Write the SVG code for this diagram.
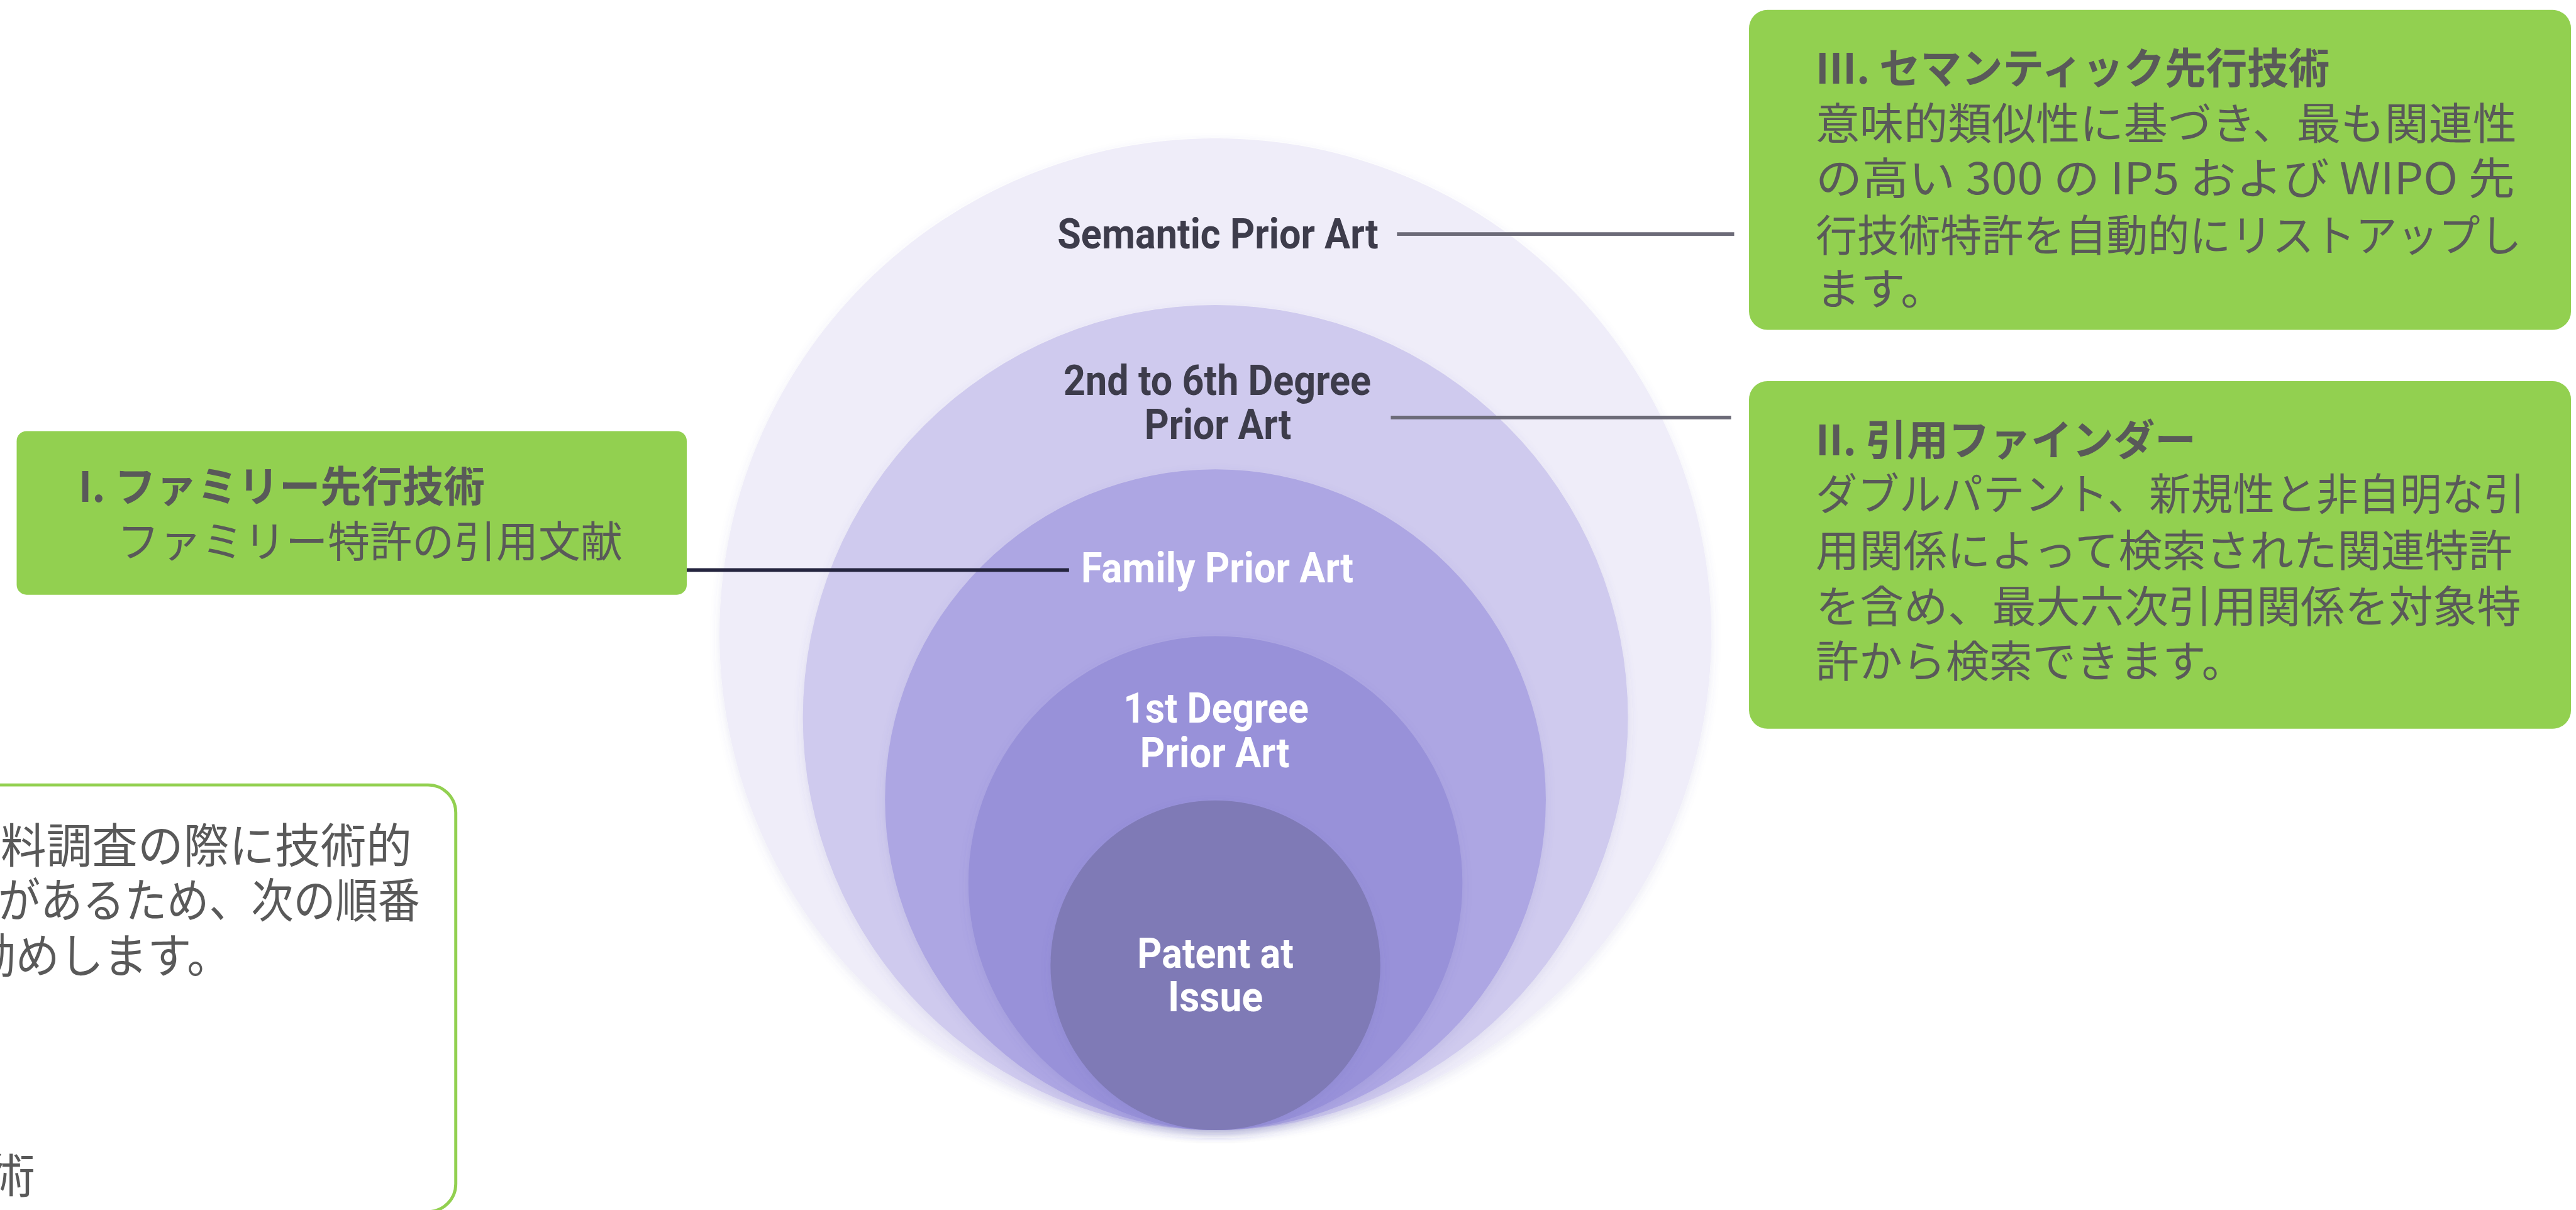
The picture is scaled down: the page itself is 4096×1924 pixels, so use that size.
<svg xmlns="http://www.w3.org/2000/svg" width="4096" height="1924" viewBox="0 0 4096 1924">
<style>
.box{fill:#92d050}
.jp{font-family:"Noto Sans CJK JP","Noto Sans",sans-serif;fill:#595959}
.jt{font-size:68px;font-weight:700}
.jb{font-size:71px}
.jl{font-size:76px}
.lbl{font-family:Roboto,"Liberation Sans",sans-serif;font-weight:700;font-size:68px;text-anchor:middle}
.dk{fill:#3d3c4b}
.wh{fill:#ffffff}
.ln{fill:none;stroke-width:6}
.sh{fill:none;stroke:#8a8a95;stroke-width:12;opacity:.45}
</style>
<defs>
<filter id="blur" x="-5%" y="-300%" width="110%" height="700%"><feGaussianBlur stdDeviation="6"/></filter>
<filter id="cs" x="-10%" y="-10%" width="120%" height="125%"><feDropShadow dx="0" dy="6" stdDeviation="8" flood-color="#5b52a8" flood-opacity="0.12"/></filter>
</defs>
<rect width="4096" height="1924" fill="#ffffff"/>
<g transform="scale(0.982)">
<g id="semantic-prior-art">
<circle cx="1968" cy="1027" r="803" fill="#efedf9" filter="url(#cs)"/>
<text class="lbl dk" x="1972" y="402" textLength="520" lengthAdjust="spacingAndGlyphs">Semantic Prior Art</text>
</g>
<g id="degree-2-6-prior-art">
<circle cx="1968" cy="1162" r="668" fill="#cfcaee" filter="url(#cs)"/>
<text class="lbl dk" x="1971" y="640" textLength="498" lengthAdjust="spacingAndGlyphs">2nd to 6th Degree</text>
<text class="lbl dk" x="1972" y="711" textLength="238" lengthAdjust="spacingAndGlyphs">Prior Art</text>
</g>
<g id="family-prior-art">
<circle cx="1968" cy="1295" r="535" fill="#ada6e3" filter="url(#cs)"/>
<text class="lbl wh" x="1971" y="943" textLength="441" lengthAdjust="spacingAndGlyphs">Family Prior Art</text>
</g>
<g id="degree-1-prior-art">
<circle cx="1968" cy="1430" r="400" fill="#9891d9" filter="url(#cs)"/>
<text class="lbl wh" x="1969" y="1170" textLength="300" lengthAdjust="spacingAndGlyphs">1st Degree</text>
<text class="lbl wh" x="1967" y="1242" textLength="242" lengthAdjust="spacingAndGlyphs">Prior Art</text>
</g>
<g id="patent-at-issue">
<circle cx="1968" cy="1563" r="267" fill="#7f7ab6" filter="url(#cs)"/>
<text class="lbl wh" x="1968" y="1567" textLength="253" lengthAdjust="spacingAndGlyphs">Patent at</text>
<text class="lbl wh" x="1968" y="1637" textLength="154" lengthAdjust="spacingAndGlyphs">Issue</text>
</g>
<g id="connectors">
<line class="sh" x1="2262" y1="395" x2="2808" y2="395" filter="url(#blur)"/>
<line class="ln" x1="2262" y1="379" x2="2808" y2="379" stroke="#6c6b78"/>
<line class="sh" x1="2252" y1="692" x2="2803" y2="692" filter="url(#blur)"/>
<line class="ln" x1="2252" y1="676" x2="2803" y2="676" stroke="#6c6b78"/>
<line class="sh" x1="1112" y1="940" x2="1731" y2="940" filter="url(#blur)"/>
<line class="ln" x1="1112" y1="923" x2="1731" y2="923" stroke="#24243e" stroke-width="5"/>
</g>
<g id="box-family">
<rect class="box" x="27" y="698" width="1085" height="265" rx="16"/>
<text class="jp jt" x="127" y="813" textLength="658" lengthAdjust="spacingAndGlyphs">I. ファミリー先行技術</text>
<text class="jp jb" x="190" y="902" textLength="818" lengthAdjust="spacingAndGlyphs" style="font-size:70px">ファミリー特許の引用文献</text>
</g>
<g id="box-semantic">
<rect class="box" x="2832" y="16" width="1331" height="518" rx="30"/>
<text class="jp jt" x="2940" y="135" textLength="832" lengthAdjust="spacingAndGlyphs">III. セマンティック先行技術</text>
<text class="jp jb" x="2940" y="226" textLength="1135" lengthAdjust="spacingAndGlyphs">意味的類似性に基づき、最も関連性</text>
<text class="jp jb" x="2940" y="315" textLength="1132" lengthAdjust="spacingAndGlyphs">の高い 300 の IP5 および WIPO 先</text>
<text class="jp jb" x="2940" y="407" textLength="1143" lengthAdjust="spacingAndGlyphs">行技術特許を自動的にリストアップし</text>
<text class="jp jb" x="2940" y="494" textLength="210" lengthAdjust="spacingAndGlyphs">ます。</text>
</g>
<g id="box-citation">
<rect class="box" x="2832" y="617" width="1331" height="563" rx="30"/>
<text class="jp jt" x="2940" y="737" textLength="616" lengthAdjust="spacingAndGlyphs">II. 引用ファインダー</text>
<text class="jp jb" x="2940" y="826" textLength="1149" lengthAdjust="spacingAndGlyphs">ダブルパテント、新規性と非自明な引</text>
<text class="jp jb" x="2940" y="918" textLength="1128" lengthAdjust="spacingAndGlyphs">用関係によって検索された関連特許</text>
<text class="jp jb" x="2940" y="1008" textLength="1142" lengthAdjust="spacingAndGlyphs">を含め、最大六次引用関係を対象特</text>
<text class="jp jb" x="2940" y="1097" textLength="695" lengthAdjust="spacingAndGlyphs">許から検索できます。</text>
</g>
<g id="box-note">
<rect x="-60" y="1271" width="798" height="691" rx="45" fill="none" stroke="#92d050" stroke-width="5"/>
<text class="jp jl" x="1" y="1397" textLength="666" lengthAdjust="spacingAndGlyphs">料調査の際に技術的</text>
<text class="jp jl" x="-3" y="1486" textLength="683" lengthAdjust="spacingAndGlyphs">があるため、次の順番</text>
<text class="jp jl" x="-46" y="1575" textLength="420" lengthAdjust="spacingAndGlyphs">勧めします。</text>
<text class="jp jl" x="57" y="1932" text-anchor="end">術</text>
</g>
</g>
</svg>
